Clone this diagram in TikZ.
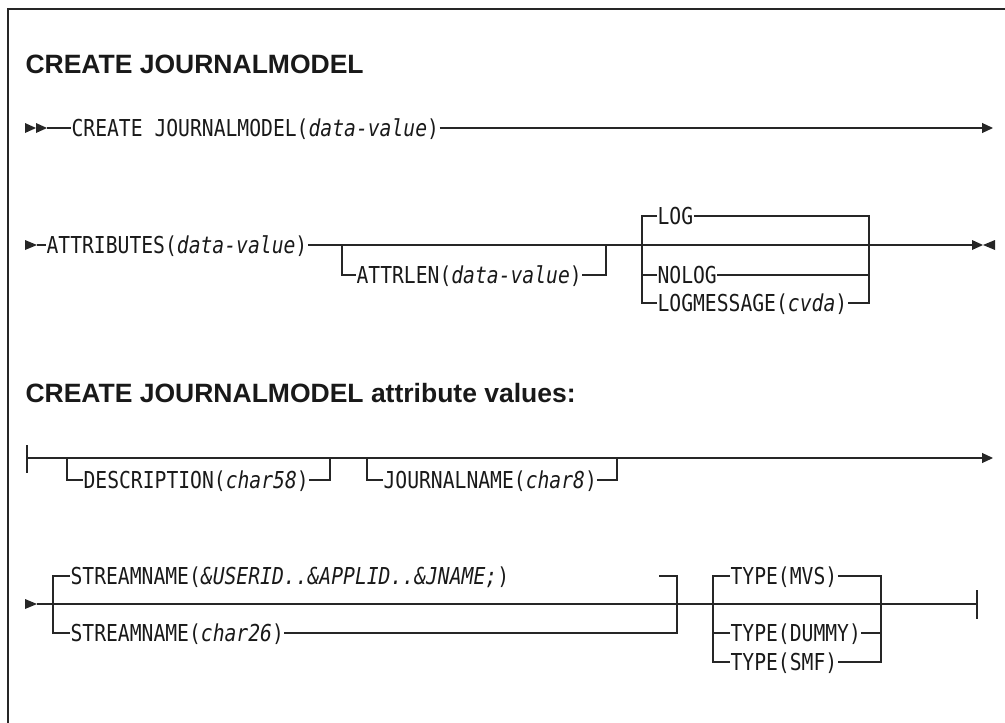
\documentclass[tikz,border=0pt]{standalone}
\usepackage{fontspec}
\setmainfont{Liberation Sans}
\newfontfamily\railfont[FakeStretch=0.845]{DejaVu Sans Mono}
\usetikzlibrary{arrows.meta,positioning}

\begin{document}
\begin{tikzpicture}[x=1pt, y=-1pt, line width=1.1pt, color=black!85,
    kw/.style={anchor=west, inner sep=0pt, text height=17pt, text depth=0pt,
               font=\railfont\fontsize{23.3}{26}\selectfont, text=black!90},
    heading/.style={anchor=base west, inner sep=0pt,
               font=\bfseries\fontsize{26.5}{30}\selectfont, text=black!90},
    endarrow/.style={-{Triangle[length=11pt,width=10pt]}}]
    \useasboundingbox (0,0) rectangle (1005,723);

    % frame
    \coordinate (frametop) at (1005,9);
    \coordinate (framecorner) at (8,9);
    \coordinate (framebottom) at (8,723);
    \draw (frametop) -- (framecorner) -- (framebottom);

    \node[heading] (title) at (25,73) {CREATE JOURNALMODEL};

    % first line
    \fill (25,123) -- (36,128) -- (25,133) -- cycle;
    \fill (36,123) -- (47,128) -- (36,133) -- cycle;
    \coordinate (cjmstart) at (47,128);
    \coordinate (cjmend) at (993,128);
    \node[kw] (cjm) at (71,128) {CREATE JOURNALMODEL(\textit{data-value})};
    \draw (cjmstart) -- (cjm.west);
    \draw[endarrow] (cjm.east) -- (cjmend);

    % second line
    \fill (25,240) -- (37,245) -- (25,250) -- cycle;
    \coordinate (attrstart) at (37,245);
    \coordinate (attrend) at (972,245);
    \node[kw] (attr) at (46,245) {ATTRIBUTES(\textit{data-value})};
    \draw (attrstart) -- (attr.west);
    \draw (attr.east) -- (attrend);
    \fill (972,240) -- (983,245) -- (972,250) -- cycle;
    \fill (995,240) -- (983,245) -- (995,250) -- cycle;

    \coordinate (lenin) at (342,245);
    \coordinate (lenout) at (606,245);
    \node[kw] (attrlen) at (356,275) {ATTRLEN(\textit{data-value})};
    \draw (lenin) |- (attrlen.west);
    \draw (attrlen.east) -| (lenout);

    \coordinate (login) at (642,303);
    \coordinate (logout) at (869,303);
    \node[kw] (log) at (657,216) {LOG};
    \node[kw] (nolog) at (657,275) {NOLOG};
    \node[kw] (logmsg) at (657,303) {LOGMESSAGE(\textit{cvda})};
    \draw (log.west) -| (login) -- (logmsg.west);
    \draw (nolog.west) -- (nolog.west -| login);
    \draw (log.east) -| (logout) -- (logmsg.east);
    \draw (nolog.east) -- (nolog.east -| logout);

    \node[heading] (subtitle) at (25,402) {CREATE JOURNALMODEL attribute values:};

    % attribute values, first line
    \coordinate (barin) at (27,458);
    \coordinate (barinend) at (993,458);
    \draw (27,445) -- (27,473);
    \draw[endarrow] (barin) -- (barinend);

    \coordinate (descin) at (67,458);
    \coordinate (descout) at (330,458);
    \node[kw] (desc) at (83,480) {DESCRIPTION(\textit{char58})};
    \draw (descin) |- (desc.west);
    \draw (desc.east) -| (descout);

    \coordinate (jnin) at (367,458);
    \coordinate (jnout) at (617,458);
    \node[kw] (jname) at (383,480) {JOURNALNAME(\textit{char8})};
    \draw (jnin) |- (jname.west);
    \draw (jname.east) -| (jnout);

    % attribute values, second line
    \fill (25,599) -- (37,604) -- (25,609) -- cycle;
    \coordinate (snstart) at (37,604);
    \coordinate (snend) at (977,604);
    \draw (snstart) -- (snend);
    \draw (977,590) -- (977,619);

    \coordinate (snin) at (53,633);
    \coordinate (snout) at (677,633);
    \coordinate (sngap) at (659,576);
    \node[kw] (sndef) at (70,576) {STREAMNAME(\textit{\&USERID..\&APPLID..\&JNAME;})};
    \node[kw] (snchar) at (70,633) {STREAMNAME(\textit{char26})};
    \draw (sndef.west) -| (snin) -- (snchar.west);
    \draw (sngap) -| (snout) -- (snchar.east);

    \coordinate (typein) at (713,662);
    \coordinate (typeout) at (881,662);
    \node[kw] (mvs) at (730,576) {TYPE(MVS)};
    \node[kw] (dummy) at (730,633) {TYPE(DUMMY)};
    \node[kw] (smf) at (730,662) {TYPE(SMF)};
    \draw (mvs.west) -| (typein) -- (smf.west);
    \draw (dummy.west) -- (dummy.west -| typein);
    \draw (mvs.east) -| (typeout) -- (smf.east);
    \draw (dummy.east) -- (dummy.east -| typeout);
\end{tikzpicture}
\end{document}
